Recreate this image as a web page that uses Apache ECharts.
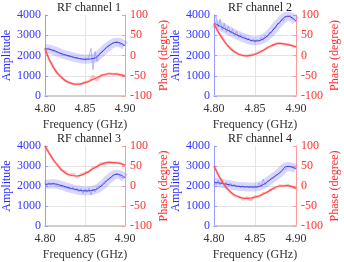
<!DOCTYPE html>
<html><head><meta charset="utf-8">
<script src="https://cdn.jsdelivr.net/npm/echarts@6/dist/echarts.min.js"></script>
<style>html,body{margin:0;padding:0;background:#fff}#c{width:344px;height:262px}</style>
</head><body><div id="c"></div>
<script>
// Frequency grids (GHz)
const xFit = [4.80,4.81,4.82,4.83,4.84,4.85,4.86,4.87,4.88,4.89,4.90];
const xRawAmp = [4.8000,4.8025,4.8050,4.8075,4.8100,4.8125,4.8150,4.8175,4.8200,4.8225,4.8250,4.8275,4.8300,4.8325,4.8350,4.8375,4.8400,4.8425,4.8450,4.8475,4.8500,4.8525,4.8550,4.8575,4.8600,4.8625,4.8650,4.8675,4.8700,4.8725,4.8750,4.8775,4.8800,4.8825,4.8850,4.8875,4.8900,4.8925,4.8950,4.8975,4.9000];
const xRawPhase = [4.800,4.805,4.810,4.815,4.820,4.825,4.830,4.835,4.840,4.845,4.850,4.855,4.860,4.865,4.870,4.875,4.880,4.885,4.890,4.895,4.900];
const xTicks = ["4.80","4.85","4.90"];
const ampTicks = [0,1000,2000,3000,4000];
const phaseTicks = [-100,-50,0,50,100];
const titles = ["RF channel 1","RF channel 2","RF channel 3","RF channel 4"];

// Channel 1
const amp1Fit = [2350,2260,2100,1980,1880,1820,1850,2130,2480,2650,2480];
const amp1Raw = [2420,2280,2390,2250,2310,2180,2240,2110,2150,2030,2090,1970,2020,1920,1980,1870,1930,1840,1890,1800,1860,1780,1950,2350,1300,2200,1700,2080,2180,2170,2360,2350,2530,2480,2620,2570,2700,2580,2640,2490,2510];
const ph1Fit = [17,-28,-53,-67,-71,-67,-59,-50,-45,-46,-51];
const ph1Raw = [19,-10,-26,-44,-52,-62,-66,-71,-70,-71,-66,-64,-50,-62,-49,-48,-44,-46,-45,-49,-50];
// Channel 2
const amp2Fit = [3600,3390,3180,2980,2820,2720,2820,3170,3640,3940,3700];
const amp2Raw = [3750,3950,3400,3800,3250,3600,3150,3450,3100,3300,2980,3200,2900,3050,2850,2950,2750,2870,2700,2820,2650,2800,2700,2900,2750,3000,2900,3150,3100,3350,3350,3600,3580,3780,3720,3920,3900,4000,3800,3820,3650];
const ph2Fit = [78,43,17,3,-1,3,13,24,30,27,21];
const ph2Raw = [80,58,44,28,18,8,4,0,-1,2,3,9,12,20,23,29,30,28,27,25,21];
// Channel 3
const amp3Fit = [2080,2110,2030,1910,1810,1755,1790,1990,2360,2590,2410];
const amp3Raw = [2150,2020,2180,2040,2170,2030,2130,1990,2090,1950,2040,1890,1980,1830,1950,1780,1900,1700,1880,1620,1850,1680,1900,1550,1860,1700,1950,1850,2060,2020,2240,2200,2330,2380,2470,2460,2640,2510,2560,2390,2450];
const ph3Fit = [100,67,42,28,25,31,43,54,59,58,52];
const ph3Raw = [100,83,66,55,41,36,27,30,22,29,33,36,46,47,57,55,60,58,58,56,51];
// Channel 4
const amp4Fit = [2185,2130,2050,1980,1955,1950,2070,2360,2660,2980,2870];
const amp4Raw = [2250,2080,2300,2050,2250,2000,2200,1990,2150,1980,2100,1940,2050,1920,2030,1900,2010,1900,2000,1880,2020,1900,2150,1950,2350,2050,2280,2260,2420,2380,2560,2540,2690,2720,2850,2840,3000,2960,2990,2850,2880];
const ph4Fit = [50,11,-15,-27,-31,-28,-20,-9,0,1,-6];
const ph4Raw = [50,27,12,-5,-14,-25,-26,-34,-29,-36,-26,-27,-18,-17,-8,-5,1,0,2,-3,-6];

const ampFits = [amp1Fit,amp2Fit,amp3Fit,amp4Fit];
const ampRaws = [amp1Raw,amp2Raw,amp3Raw,amp4Raw];
const phFits = [ph1Fit,ph2Fit,ph3Fit,ph4Fit];
const phRaws = [ph1Raw,ph2Raw,ph3Raw,ph4Raw];

const FONT = 'Liberation Serif';
const zip = (xs, ys) => xs.map((x,i)=>[x, ys[i]]);
const pos = [
  {left:43, top:15}, {left:214, top:15},
  {left:43, top:146}, {left:214, top:146}
];
const W = 82, H = 81;

const grid=[], xAxis=[], yAxis=[], series=[], title=[];
pos.forEach((p,i)=>{
  grid.push({left:p.left, top:p.top, width:W, height:H});
  title.push({text:titles[i], left:p.left + W/2, top:p.top-18, textAlign:'center',
    textStyle:{fontFamily:FONT, fontSize:12, fontWeight:'normal', color:'#222'}});
  xAxis.push({type:'value', gridIndex:i, min:4.80, max:4.90, interval:0.05,
    name:'Frequency (GHz)', nameLocation:'middle', nameGap:23,
    nameTextStyle:{fontFamily:FONT, fontSize:12, color:'#333'},
    axisLine:{show:true, lineStyle:{color:'#cfcfcf', width:2}},
    axisTick:{show:false},
    axisLabel:{fontFamily:FONT, fontSize:12, color:'#333', margin:7,
      formatter:v=>{const s=v.toFixed(2); return xTicks.includes(s)?s:'';}},
    splitLine:{show:true, showMinLine:false, showMaxLine:false, lineStyle:{color:'#e4e4e4', width:1}}
  });
  yAxis.push({type:'value', gridIndex:i, min:ampTicks[0], max:ampTicks[ampTicks.length-1], interval:1000,
    position:'left',
    name:'Amplitude', nameLocation:'middle', nameGap:32,
    nameTextStyle:{fontFamily:FONT, fontSize:12, color:'#2a2aff'},
    axisLine:{show:true, lineStyle:{color:'#9a9aff', width:1}},
    axisTick:{show:true, inside:true, length:3, lineStyle:{color:'#9a9aff'}},
    axisLabel:{fontFamily:FONT, fontSize:12, color:'#3535ff', margin:4, formatter:v=>String(v)},
    splitLine:{show:true, showMinLine:false, showMaxLine:false, lineStyle:{color:'#e4e4e4', width:1}}
  });
  yAxis.push({type:'value', gridIndex:i, min:phaseTicks[0], max:phaseTicks[phaseTicks.length-1], interval:50,
    position:'right',
    name:'Phase (degree)', nameLocation:'middle', nameGap:33,
    nameTextStyle:{fontFamily:FONT, fontSize:12, color:'#ff2a2a'},
    axisLine:{show:true, lineStyle:{color:'#ff9a9a', width:1}},
    axisTick:{show:true, inside:true, length:3, lineStyle:{color:'#ff9a9a'}},
    axisLabel:{fontFamily:FONT, fontSize:12, color:'#ff3030', margin:5, formatter:v=>String(v)},
    splitLine:{show:false}
  });
  const ya = i*2, yp = i*2+1;
  series.push({type:'line', xAxisIndex:i, yAxisIndex:ya, data:zip(xFit, ampFits[i]), smooth:0.5,
    showSymbol:false, silent:true, lineStyle:{color:'rgba(110,110,255,0.28)', width:9}});
  series.push({type:'line', xAxisIndex:i, yAxisIndex:ya, data:zip(xRawAmp, ampRaws[i]),
    showSymbol:false, silent:true, lineStyle:{color:'rgba(130,130,255,0.55)', width:1}});
  series.push({type:'line', xAxisIndex:i, yAxisIndex:ya, data:zip(xFit, ampFits[i]), smooth:0.5,
    showSymbol:false, silent:true, lineStyle:{color:'#3a3ae0', width:1}});
  series.push({type:'line', xAxisIndex:i, yAxisIndex:yp, data:zip(xRawPhase, phRaws[i]),
    showSymbol:false, silent:true, lineStyle:{color:'rgba(255,120,120,0.45)', width:2.5}});
  series.push({type:'line', xAxisIndex:i, yAxisIndex:yp, data:zip(xFit, phFits[i]), smooth:0.5,
    showSymbol:false, silent:true, lineStyle:{color:'#ff4a4a', width:1.2}});
});

const chart = echarts.init(document.getElementById('c'), null, {renderer:'canvas'});
chart.setOption({animation:false, backgroundColor:'#fff', textStyle:{fontFamily:FONT}, title, grid, xAxis, yAxis, series});
</script></body></html>
